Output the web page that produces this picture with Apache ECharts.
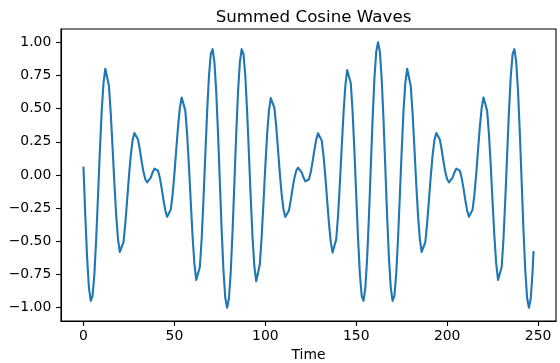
<!DOCTYPE html>
<html>
<head>
<meta charset="utf-8">
<script src="https://cdn.jsdelivr.net/npm/echarts@6/dist/echarts.min.js"></script>
<style>
  html, body { margin: 0; padding: 0; background: #fff; }
  #chart { width: 560px; height: 363px; }
</style>
</head>
<body>
<div id="chart"></div>
<script>
// summed cosine signal, one value per time step (t = 0 .. 247)
var waveValues = [
  0.056, -0.311, -0.628, -0.851, -0.948, -0.910, -0.744, -0.477, -0.152, 0.182,
  0.478, 0.693, 0.801, 0.791, 0.670, 0.463, 0.204, -0.066, -0.307, -0.485,
  -0.580, -0.584, -0.506, -0.365, -0.189, -0.009, 0.148, 0.261, 0.316, 0.315,
  0.267, 0.189, 0.101, 0.022, -0.032, -0.055, -0.048, -0.019, 0.019, 0.048,
  0.055, 0.032, -0.022, -0.101, -0.189, -0.267, -0.315, -0.316, -0.261, -0.148,
  0.009, 0.189, 0.365, 0.506, 0.584, 0.580, 0.485, 0.307, 0.066, -0.204,
  -0.463, -0.670, -0.791, -0.801, -0.693, -0.478, -0.182, 0.152, 0.477, 0.744,
  0.910, 0.948, 0.851, 0.628, 0.311, -0.056, -0.419, -0.725, -0.929, -1.000,
  -0.929, -0.725, -0.419, -0.056, 0.311, 0.628, 0.851, 0.948, 0.910, 0.744,
  0.477, 0.152, -0.182, -0.478, -0.693, -0.801, -0.791, -0.670, -0.463, -0.204,
  0.066, 0.307, 0.485, 0.580, 0.584, 0.506, 0.365, 0.189, 0.009, -0.148,
  -0.261, -0.316, -0.315, -0.267, -0.189, -0.101, -0.022, 0.032, 0.055, 0.048,
  0.019, -0.019, -0.048, -0.055, -0.032, 0.022, 0.101, 0.189, 0.267, 0.315,
  0.316, 0.261, 0.148, -0.009, -0.189, -0.365, -0.506, -0.584, -0.580, -0.485,
  -0.307, -0.066, 0.204, 0.463, 0.670, 0.791, 0.801, 0.693, 0.478, 0.182,
  -0.152, -0.477, -0.744, -0.910, -0.948, -0.851, -0.628, -0.311, 0.056, 0.419,
  0.725, 0.929, 1.000, 0.929, 0.725, 0.419, 0.056, -0.311, -0.628, -0.851,
  -0.948, -0.910, -0.744, -0.477, -0.152, 0.182, 0.478, 0.693, 0.801, 0.791,
  0.670, 0.463, 0.204, -0.066, -0.307, -0.485, -0.580, -0.584, -0.506, -0.365,
  -0.189, -0.009, 0.148, 0.261, 0.316, 0.315, 0.267, 0.189, 0.101, 0.022,
  -0.032, -0.055, -0.048, -0.019, 0.019, 0.048, 0.055, 0.032, -0.022, -0.101,
  -0.189, -0.267, -0.315, -0.316, -0.261, -0.148, 0.009, 0.189, 0.365, 0.506,
  0.584, 0.580, 0.485, 0.307, 0.066, -0.204, -0.463, -0.670, -0.791, -0.801,
  -0.693, -0.478, -0.182, 0.152, 0.477, 0.744, 0.910, 0.948, 0.851, 0.628,
  0.311, -0.056, -0.419, -0.725, -0.929, -1.000, -0.929, -0.725
]
// the line stops half a step after the last whole step
var lastPoint = [247.5, -0.58]

var xTicks = [0, 50, 100, 150, 200, 250]
var yTicks = [-1, -0.75, -0.5, -0.25, 0, 0.25, 0.5, 0.75, 1]

var points = waveValues.map(function (v, i) { return [i, v] })
points.push(lastPoint)

var font = 'DejaVu Sans'
var chart = echarts.init(document.getElementById('chart'))
chart.setOption({
  animation: false,
  backgroundColor: '#fff',
  title: {
    text: 'Summed Cosine Waves',
    left: 308.5,
    top: 4,
    textAlign: 'center',
    textStyle: { fontFamily: font, fontSize: 16.7, fontWeight: 'normal', color: '#000' }
  },
  grid: {
    left: 61, top: 29, width: 495, height: 292,
    containLabel: false,
    outerBoundsMode: 'none',
    show: true, borderColor: '#000', borderWidth: 1.1
  },
  xAxis: {
    type: 'value',
    min: -12.375,
    max: 259.875,
    name: 'Time',
    nameLocation: 'middle',
    nameGap: 27,
    nameTextStyle: { fontFamily: font, fontSize: 13.9, color: '#000' },
    splitLine: { show: false },
    axisLine: { show: true, onZero: false, lineStyle: { color: '#000', width: 1.1 } },
    axisTick: { show: true, length: 4.9, customValues: xTicks, lineStyle: { color: '#000', width: 1.1 } },
    axisLabel: {
      customValues: xTicks, margin: 8,
      fontFamily: font, fontSize: 13.9, color: '#000'
    }
  },
  yAxis: {
    type: 'value',
    min: -1.1,
    max: 1.1,
    splitLine: { show: false },
    axisLine: { show: true, onZero: false, lineStyle: { color: '#000', width: 1.1 } },
    axisTick: { show: true, length: 4.9, customValues: yTicks, lineStyle: { color: '#000', width: 1.1 } },
    axisLabel: {
      customValues: yTicks, margin: 9.7,
      fontFamily: font, fontSize: 13.9, color: '#000',
      formatter: function (v) { return v.toFixed(2).replace('-', '\u2212') }
    }
  },
  series: [{
    type: 'line',
    data: points,
    symbol: 'none',
    showSymbol: false,
    clip: true,
    lineStyle: { color: '#1f77b4', width: 2.1, join: 'round', cap: 'square' }
  }]
})
</script>
</body>
</html>
